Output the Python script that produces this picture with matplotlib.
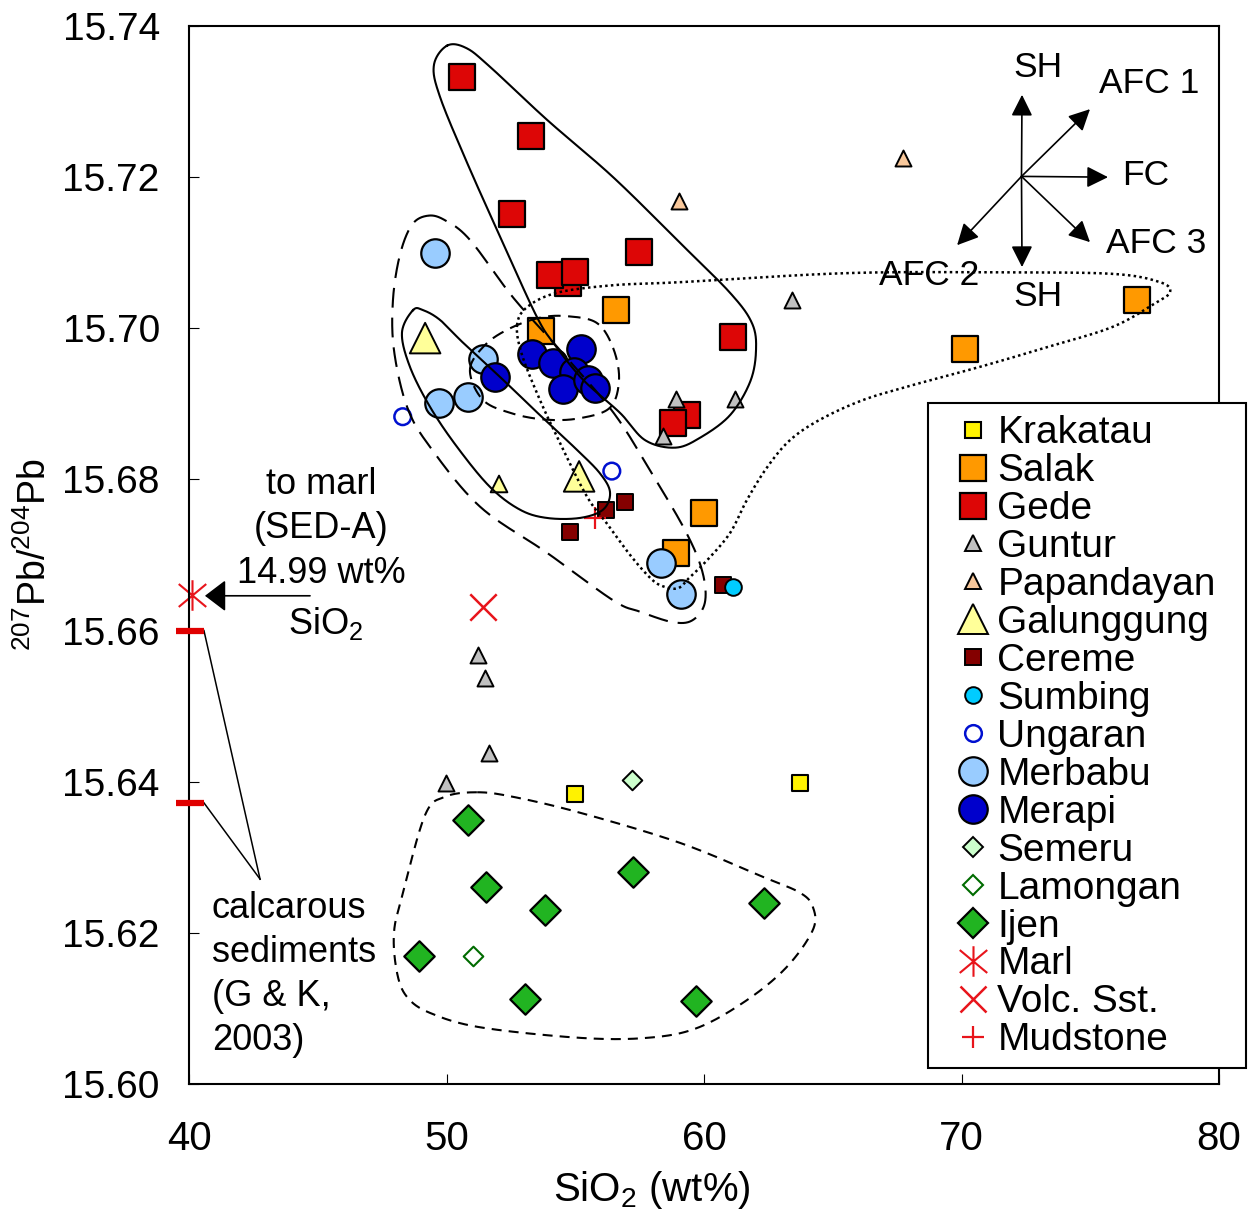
import numpy as np
import matplotlib
matplotlib.use("Agg")
import matplotlib.pyplot as plt
from matplotlib.lines import Line2D
from matplotlib.path import Path
from matplotlib.patches import Rectangle
from matplotlib import font_manager

plt.rcParams["font.family"] = ["Liberation Sans", "DejaVu Sans"]
plt.rcParams["mathtext.default"] = "regular"

_installed = {f.name for f in font_manager.fontManager.ttflist}
HAS_NARROW = "Liberation Sans Narrow" in _installed
NARROW = (["Liberation Sans Narrow"] if HAS_NARROW else []) + ["Liberation Sans", "DejaVu Sans"]

# ---------------- data: SiO2 (wt%) and 207Pb/204Pb ----------------
krakatau_x = [54.99, 63.73]
krakatau_y = [15.6384, 15.6398]

salak_x = [53.67, 56.58, 60.00, 58.91, 70.14, 76.82]
salak_y = [15.6996, 15.7024, 15.6756, 15.6703, 15.6973, 15.7037]

gede_x = [50.59, 53.27, 52.56, 57.48, 54.73, 54.02, 54.99, 61.14, 59.33, 58.81]
gede_y = [15.7332, 15.7254, 15.7151, 15.7101, 15.7060, 15.7070, 15.7075, 15.6988, 15.6885, 15.6874]

guntur_x = [63.43, 58.91, 61.22, 58.41, 51.23, 51.50, 51.66, 49.98]
guntur_y = [15.7038, 15.6907, 15.6907, 15.6857, 15.6568, 15.6537, 15.6438, 15.6398]

papandayan_x = [59.04, 67.72]
papandayan_y = [15.7168, 15.7225]

galunggung_x = [49.17, 55.15, 52.04]
galunggung_y = [15.6987, 15.6804, 15.6794]
galunggung_ms = [22, 22, 12]

cereme_x = [56.93, 56.19, 54.80, 60.75]
cereme_y = [15.6770, 15.6760, 15.6730, 15.6660]

sumbing_x = [61.11]
sumbing_y = [15.6657]

ungaran_x = [48.30, 56.42]
ungaran_y = [15.6883, 15.6811]

merbabu_x = [49.55, 51.43, 49.72, 50.85, 58.32, 59.11]
merbabu_y = [15.7100, 15.6960, 15.6901, 15.6909, 15.6690, 15.6649]

merapi_x = [53.31, 51.88, 54.15, 55.22, 54.95, 54.54, 55.51, 55.77]
merapi_y = [15.6966, 15.6936, 15.6954, 15.6972, 15.6942, 15.6919, 15.6932, 15.6921]

semeru_x = [57.22]
semeru_y = [15.6402]

lamongan_x = [51.04]
lamongan_y = [15.6169]

ijen_x = [50.85, 51.52, 53.83, 57.25, 62.34, 48.93, 53.05, 59.69]
ijen_y = [15.6349, 15.6261, 15.6230, 15.6281, 15.6239, 15.6169, 15.6112, 15.6110]

marl_x = [40.10]
marl_y = [15.6647]
volc_x = [51.43]
volc_y = [15.6631]
mud_x = [55.77]
mud_y = [15.6749]

# calcareous sediments (G & K, 2003) plotted on the y axis
calc_y = [15.660, 15.6372]

x_ticks = [40, 50, 60, 70, 80]
y_ticks = [15.60, 15.62, 15.64, 15.66, 15.68, 15.70, 15.72, 15.74]

# ---------------- hand-drawn group outlines (control points) ----------------
gede_env_x = [50.02, 50.76, 51.69, 53.90, 56.47, 59.07, 61.01, 61.86, 62.02, 61.79, 61.01,
              59.84, 58.87, 57.71, 56.74, 55.30, 54.21, 53.51, 52.19, 50.80, 49.75, 49.51]
gede_env_y = [15.7374, 15.7371, 15.7346, 15.7276, 15.7200, 15.7113, 15.7047, 15.7007, 15.6971,
              15.6929, 15.6885, 15.6855, 15.6842, 15.6852, 15.6888, 15.6932, 15.6978, 15.7015,
              15.7113, 15.7219, 15.7306, 15.7348]

galung_env_x = [48.70, 48.27, 48.58, 49.36, 50.41, 51.69, 52.85, 53.90, 55.18, 56.08, 56.35,
                55.96, 55.07, 53.63, 52.19, 50.64, 49.75, 49.09]
galung_env_y = [15.7024, 15.6994, 15.6949, 15.6896, 15.6843, 15.6790, 15.6760, 15.6749, 15.6749,
                15.6760, 15.6783, 15.6808, 15.6839, 15.6885, 15.6932, 15.6981, 15.7011, 15.7024]

merbabu_env_x = [49.28, 49.94, 50.91, 52.58, 54.41, 56.47, 57.90, 59.26, 59.92, 60.04, 59.57,
                 58.80, 57.51, 56.47, 53.90, 51.30, 49.36, 48.47, 47.96, 47.92, 48.19, 48.66]
merbabu_env_y = [15.7149, 15.7143, 15.7117, 15.7041, 15.6971, 15.6889, 15.6812, 15.6733, 15.6680,
                 15.6638, 15.6614, 15.6611, 15.6625, 15.6640, 15.6703, 15.6764, 15.6843, 15.6896,
                 15.6971, 15.7037, 15.7097, 15.7137]

merapi_env_x = [50.91, 51.50, 52.47, 53.63, 54.68, 55.84, 56.47, 56.70, 56.35, 55.18, 53.90,
                52.58, 51.42]
merapi_env_y = [15.6945, 15.6978, 15.7000, 15.7014, 15.7016, 15.7007, 15.6974, 15.6932, 15.6895,
                15.6881, 15.6879, 15.6887, 15.6905]

salak_env_x = [52.74, 53.13, 54.29, 56.47, 59.07, 65.55, 71.50, 75.88, 77.71, 78.10, 77.51,
               75.88, 73.32, 70.72, 68.12, 66.17, 64.50, 63.34, 62.45, 61.67, 61.01, 60.12,
               59.46, 58.99, 58.37, 57.90, 57.13, 56.27, 55.46, 54.41, 53.63, 52.93]
salak_env_y = [15.7004, 15.7028, 15.7047, 15.7057, 15.7061, 15.7073, 15.7074, 15.7072, 15.7061,
               15.7048, 15.7033, 15.7002, 15.6975, 15.6949, 15.6925, 15.6905, 15.6879, 15.6852,
               15.6816, 15.6773, 15.6729, 15.6693, 15.6671, 15.6656, 15.6659, 15.6670, 15.6700,
               15.6740, 15.6777, 15.6848, 15.6905, 15.6965]

ijen_env_x = [51.18, 49.94, 49.17, 48.31, 47.96, 48.08, 48.47, 49.36, 51.30, 55.18, 57.79,
              59.73, 61.67, 63.22, 64.23, 64.23, 63.73, 62.29, 59.07, 55.18, 52.58]
ijen_env_y = [15.6386, 15.6380, 15.6356, 15.6253, 15.6200, 15.6147, 15.6115, 15.6094, 15.6075,
              15.6061, 15.6061, 15.6074, 15.6111, 15.6155, 15.6204, 15.6234, 15.6253, 15.6274,
              15.6319, 15.6359, 15.6380]


def closed_curve(xs, ys, n=40):
    """Closed Catmull-Rom spline through the control points."""
    P = np.column_stack([xs, ys])
    m = len(P)
    t = np.linspace(0, 1, n, endpoint=False)[:, None]
    segs = []
    for i in range(m):
        p0, p1, p2, p3 = P[i - 1], P[i], P[(i + 1) % m], P[(i + 2) % m]
        segs.append(0.5 * (2 * p1 + (-p0 + p2) * t + (2 * p0 - 5 * p1 + 4 * p2 - p3) * t ** 2
                           + (-p0 + 3 * p1 - 3 * p2 + p3) * t ** 3))
    c = np.vstack(segs + [P[:1]])
    return c[:, 0], c[:, 1]


# asterisk marker: vertical bar plus a cross
asterisk = Path([(0, -1), (0, 1), (-0.9, -0.75), (0.9, 0.75), (-0.9, 0.75), (0.9, -0.75)],
                [Path.MOVETO, Path.LINETO, Path.MOVETO, Path.LINETO, Path.MOVETO, Path.LINETO])

RED = "#e8141b"
series = [
    # label, x, y, marker, size(pt), face, edge, edge width
    ("Krakatau", krakatau_x, krakatau_y, "s", 11.5, "#fff200", "black", 1.5),
    ("Salak", salak_x, salak_y, "s", 19, "#ff9900", "black", 1.6),
    ("Gede", gede_x, gede_y, "s", 19, "#dd0606", "black", 1.6),
    ("Guntur", guntur_x, guntur_y, "^", 11.5, "#c0c0c0", "black", 1.4),
    ("Papandayan", papandayan_x, papandayan_y, "^", 11.5, "#f9c89b", "black", 1.4),
    ("Galunggung", galunggung_x, galunggung_y, "^", galunggung_ms, "#ffff99", "black", 1.4),
    ("Cereme", cereme_x, cereme_y, "s", 11.5, "#840000", "black", 1.4),
    ("Sumbing", sumbing_x, sumbing_y, "o", 12, "#00ccff", "black", 1.4),
    ("Ungaran", ungaran_x, ungaran_y, "o", 12, "none", "#0010d0", 1.8),
    ("Merbabu", merbabu_x, merbabu_y, "o", 20.5, "#99ccff", "black", 1.6),
    ("Merapi", merapi_x, merapi_y, "o", 20.5, "#0000cc", "black", 1.6),
    ("Semeru", semeru_x, semeru_y, "D", 10, "#ccffcc", "black", 1.4),
    ("Lamongan", lamongan_x, lamongan_y, "D", 10, "white", "#006b00", 1.5),
    ("Ijen", ijen_x, ijen_y, "D", 15.5, "#21b421", "black", 1.6),
    ("Marl", marl_x, marl_y, asterisk, 22, RED, RED, 1.5),
    ("Volc. Sst.", volc_x, volc_y, "x", 19, RED, RED, 1.8),
    ("Mudstone", mud_x, mud_y, "+", 16, RED, RED, 1.6),
]

fig = plt.figure(figsize=(12.5, 12.16), dpi=100)
ax = fig.add_axes([0.1512, 0.1086, 0.824, 0.870])
ax.set_xlim(40, 80)
ax.set_ylim(15.60, 15.74)

handles = []
for label, xs, ys, mk, ms, fc, ec, lw in series:
    sizes = np.square(ms)
    line_marker = mk in ("x", "+") or mk is asterisk
    if line_marker:
        ax.scatter(xs, ys, s=sizes, marker=mk, c=fc, linewidths=lw, zorder=2, clip_on=False)
    else:
        ax.scatter(xs, ys, s=sizes, marker=mk, facecolors=fc, edgecolors=ec,
                   linewidths=lw, zorder=2, clip_on=False)
    hms = ms if np.isscalar(ms) else max(ms)
    handles.append(Line2D([], [], ls="none", marker=mk, markersize=hms,
                          markerfacecolor=fc, markeredgecolor=ec, markeredgewidth=lw,
                          label=label))

# group outlines
outlines = [
    (gede_env_x, gede_env_y, "-", 1.5),
    (galung_env_x, galung_env_y, "-", 1.5),
    (merbabu_env_x, merbabu_env_y, (0, (9.5, 4.8)), 1.5),
    (merapi_env_x, merapi_env_y, (0, (6.0, 3.6)), 1.5),
    (salak_env_x, salak_env_y, (0, (1.0, 1.3)), 1.8),
    (ijen_env_x, ijen_env_y, (0, (4.8, 3.4)), 1.5),
]
for ex, ey, ls, lw in outlines:
    cx, cy = closed_curve(ex, ey)
    ax.plot(cx, cy, color="black", ls=ls, lw=lw, zorder=3)

# calcareous sediment values on the y axis and the pointer lines to their label
for cy in calc_y:
    ax.plot([39.5, 40.58], [cy, cy], color="#e00000", lw=4.5, solid_capstyle="butt",
            clip_on=False, zorder=5)
    ax.plot([40.58, 42.76], [cy, 15.6271], color="black", lw=1.1, zorder=4)

calc_lines = ["calcarous", "sediments", "(G & K,", "2003)"]
for txt, yb in zip(calc_lines, [15.6220, 15.6161, 15.6103, 15.6045]):
    ax.text(40.89, yb, txt, fontsize=26, ha="left", va="baseline", zorder=6)

# arrow to the marl value
ax.annotate("", xy=(40.62, 15.6646), xytext=(44.70, 15.6646),
            arrowprops=dict(arrowstyle="-|>,head_length=0.5,head_width=0.38",
                            mutation_scale=26, lw=1.2, color="black",
                            shrinkA=0, shrinkB=0), zorder=6)
for txt, xc, yb in [("to marl", 45.13, 15.6781), ("(SED-A)", 45.13, 15.6722),
                    ("14.99 wt%", 45.13, 15.6663), ("SiO$_2$", 45.32, 15.6595)]:
    ax.text(xc, yb, txt, fontsize=26, ha="center", va="baseline", zorder=6)

# process vectors
centre = (72.33, 15.7201)
vector_tips = [(72.35, 15.7309), (72.35, 15.7081), (75.69, 15.7200),
               (74.99, 15.7290), (74.99, 15.7114), (69.83, 15.7110)]
for tip in vector_tips:
    ax.annotate("", xy=tip, xytext=centre,
                arrowprops=dict(arrowstyle="-|>,head_length=0.5,head_width=0.25",
                                mutation_scale=26, lw=1.2, color="black",
                                shrinkA=0, shrinkB=0), zorder=6)
vector_labels = [("SH", 72.97, 15.7332), ("AFC 1", 77.28, 15.7311), ("FC", 77.15, 15.7189),
                 ("AFC 3", 77.57, 15.7099), ("AFC 2", 68.74, 15.7057), ("SH", 72.97, 15.7029)]
for txt, xc, yb in vector_labels:
    ax.text(xc, yb, txt, fontsize=25.5, ha="center", va="baseline", zorder=6)

# axes styling
for sp in ax.spines.values():
    sp.set_linewidth(1.5)
ax.set_xticks(x_ticks)
ax.set_yticks(y_ticks)
ax.set_yticklabels([f"{v:.2f}" for v in y_ticks])
ax.set_xticklabels([str(v) for v in x_ticks])
ax.tick_params(direction="in", length=7, width=0.8, top=False, right=False)
ax.tick_params(axis="y", pad=21, labelsize=28)
ax.tick_params(axis="x", pad=26)
xsize = 34 if HAS_NARROW else 29
for lab in ax.get_xticklabels():
    lab.set_family(NARROW)
    lab.set_fontsize(xsize)

fig.text(652 / 1250, 1 - 1190 / 1216, "SiO$_2$ (wt%)", family=NARROW, fontsize=xsize,
         ha="center", va="center")
fig.text(35 / 1250, 1 - 555 / 1216, "$^{207}$Pb/$^{204}$Pb", family=NARROW,
         fontsize=32 if HAS_NARROW else 27, rotation=90, ha="center", va="center")

# legend box sits on top of the axes frame, overlapping the right spine
legend_box = Rectangle((928 / 1250, 1 - 1068 / 1216), 318 / 1250, 665 / 1216,
                       transform=fig.transFigure, facecolor="white", edgecolor="black",
                       linewidth=1.5, zorder=5)
fig.patches.append(legend_box)
leg = fig.legend(handles=handles, loc="upper left", bbox_to_anchor=(0.7594, 0.6585),
                 bbox_transform=fig.transFigure, borderaxespad=0, fontsize=28,
                 frameon=False, handlelength=1.2, handletextpad=0.04, borderpad=0.0,
                 labelspacing=0.05, numpoints=1)
leg.set_zorder(6)

fig.savefig("out.png", dpi=100)
